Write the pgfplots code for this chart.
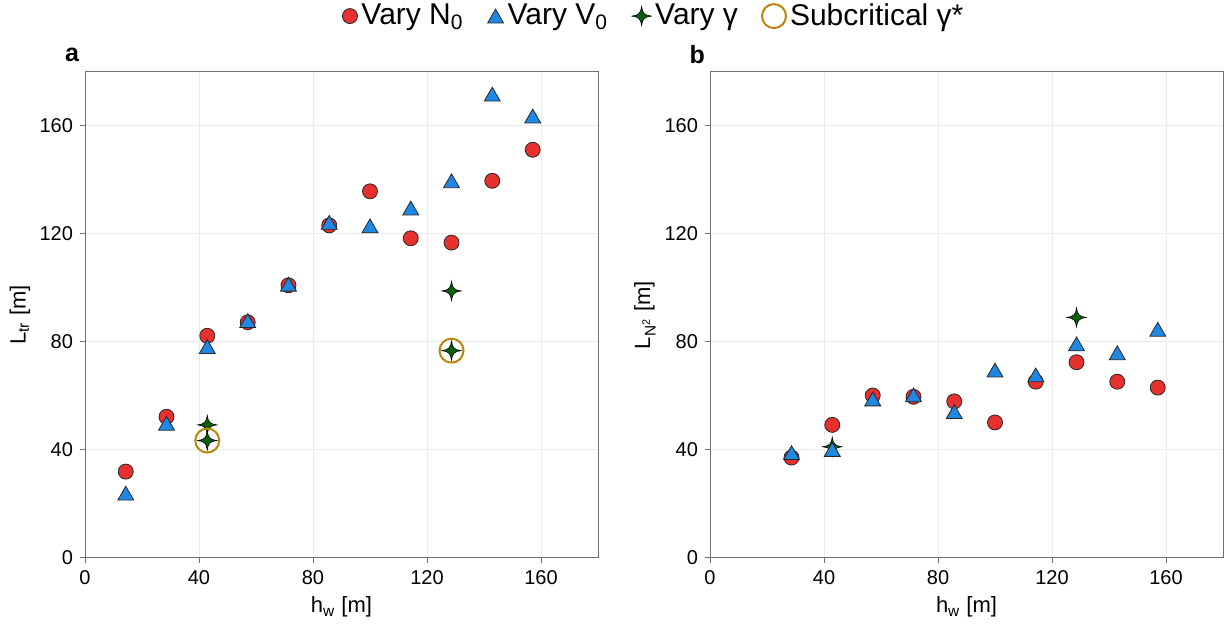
\documentclass[border=0pt]{standalone}
\usepackage{fontspec}
\setmainfont{Liberation Sans}
\usepackage{pgfplots}
\pgfplotsset{compat=1.18}

\definecolor{cred}{HTML}{E8312F}
\definecolor{cblue}{HTML}{1F88E5}
\definecolor{cgreen}{HTML}{0B5E0B}
\definecolor{cgold}{HTML}{B8860B}
\definecolor{gridc}{HTML}{EBEBEB}
\definecolor{framec}{HTML}{707070}

% four-pointed star with concave sides
\pgfdeclareplotmark{star4}{%
  \pgfpathmoveto{\pgfpoint{0pt}{\pgfplotmarksize}}%
  \pgfpathcurveto{\pgfpoint{0.08\pgfplotmarksize}{0.3\pgfplotmarksize}}{\pgfpoint{0.3\pgfplotmarksize}{0.08\pgfplotmarksize}}{\pgfpoint{\pgfplotmarksize}{0pt}}%
  \pgfpathcurveto{\pgfpoint{0.3\pgfplotmarksize}{-0.08\pgfplotmarksize}}{\pgfpoint{0.08\pgfplotmarksize}{-0.3\pgfplotmarksize}}{\pgfpoint{0pt}{-\pgfplotmarksize}}%
  \pgfpathcurveto{\pgfpoint{-0.08\pgfplotmarksize}{-0.3\pgfplotmarksize}}{\pgfpoint{-0.3\pgfplotmarksize}{-0.08\pgfplotmarksize}}{\pgfpoint{-\pgfplotmarksize}{0pt}}%
  \pgfpathcurveto{\pgfpoint{-0.3\pgfplotmarksize}{0.08\pgfplotmarksize}}{\pgfpoint{-0.08\pgfplotmarksize}{0.3\pgfplotmarksize}}{\pgfpoint{0pt}{\pgfplotmarksize}}%
  \pgfpathclose
  \pgfusepathqfillstroke
}

\pgfplotsset{
  panel/.style={
    scale only axis, width=256.5pt, height=243pt,
    xmin=0, xmax=180, ymin=0, ymax=180,
    xtick={0,40,...,160}, ytick={0,40,...,160},
    grid=major, major grid style={gridc, line width=0.5pt},
    axis line style={framec, line width=0.5pt},
    tick align=outside, tick pos=left, major tick length=2.5pt,
    tick style={framec, line width=0.5pt},
    ticklabel style={font=\fontsize{10}{11}\selectfont},
    /pgf/number format/assume math mode=true,
    label style={font=\fontsize{11}{13}\selectfont},
    xlabel={h\textsubscript{w} [m]},
    xlabel style={at={(axis description cs:0.5,-0.101)}, anchor=center},
    ylabel style={at={(axis description cs:-0.127,0.5)}, anchor=center},
    clip=false,
  },
  redm/.style={only marks, mark=*, mark size=3.75pt,
    mark options={fill=cred, draw=black!85, line width=0.4pt}},
  % triangles centred on their bounding box
  bluem/.style={only marks, mark=triangle*, mark size=4.6pt,
    mark options={fill=cblue, draw=black!85, line width=0.4pt, yshift=-1.15pt}},
  greenm/.style={only marks, mark=star4, mark size=4.8pt,
    mark options={fill=cgreen, draw=black, line width=0.3pt}},
  goldm/.style={only marks, mark=o, mark size=6pt,
    mark options={draw=cgold, line width=1pt}},
}

\begin{document}
\begin{tikzpicture}
\useasboundingbox (-42.5pt,-33.5pt) rectangle (572pt,279pt);
% ---------- panel a ----------
\begin{axis}[panel,
  ylabel={L\textsubscript{tr} [m]},
  legend style={at={(1.111,1.115)}, anchor=center, draw=none, fill=none,
    legend columns=-1, font=\fontsize{15}{17}\selectfont,
    /tikz/every even column/.append style={column sep=10pt}},
]
\addplot[redm] coordinates {
  (14.3,32.0) (28.6,52.3) (42.9,82.3) (57.1,87.3) (71.4,101.0) (85.7,123.2)
  (100,135.8) (114.3,118.4) (128.6,116.8) (142.9,139.7) (157.1,151.2)};
\addlegendentry{Vary N\textsubscript{0}}
\addplot[bluem] coordinates {
  (14.3,24.0) (28.6,49.9) (42.9,78.3) (57.1,87.9) (71.4,101.4) (85.7,124.3)
  (100,123.0) (114.3,129.6) (128.6,139.7) (142.9,171.8) (157.1,163.7)};
\addlegendentry{Vary V\textsubscript{0}}
\addplot[greenm] coordinates {
  (42.9,49.3) (42.9,43.5) (128.6,98.9) (128.6,76.8)};
\addlegendentry{Vary γ}
\addplot[goldm] coordinates {(42.9,43.5) (128.6,76.8)};
\addlegendentry{Subcritical γ*}
\node[font=\bfseries\fontsize{12.5}{14}\selectfont] at (rel axis cs:-0.025,1.035) {a};
\end{axis}
% ---------- panel b ----------
\begin{axis}[panel, at={(312.5pt,0pt)},
  ylabel={L\textsubscript{N\textsuperscript{2}} [m]},
]
\addplot[redm] coordinates {
  (28.6,37.2) (42.9,49.3) (57.1,60.2) (71.4,59.7) (85.7,58.0)
  (100,50.2) (114.3,65.3) (128.6,72.5) (142.9,65.3) (157.1,63.1)};
\addplot[greenm] coordinates {(42.9,41.2) (128.6,89.1)};
\addplot[bluem] coordinates {
  (28.6,39.0) (42.9,40.2) (57.1,58.9) (71.4,60.4) (85.7,54.2)
  (100,69.6) (114.3,67.8) (128.6,79.3) (142.9,76.0) (157.1,84.7)};
\node[font=\bfseries\fontsize{12.5}{14}\selectfont] at (rel axis cs:-0.025,1.035) {b};
\end{axis}
\end{tikzpicture}
\end{document}
